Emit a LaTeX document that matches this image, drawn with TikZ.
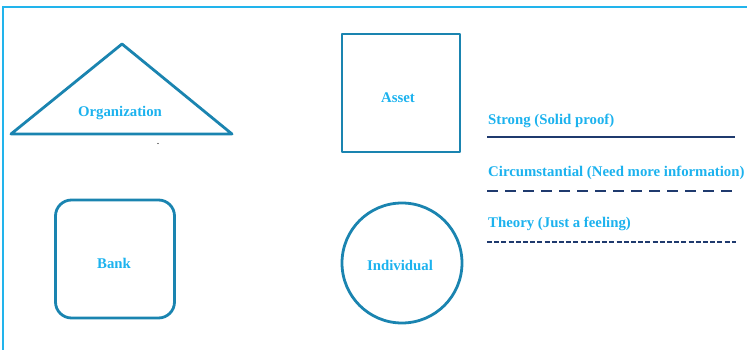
\documentclass[tikz,border=0pt]{standalone}
\usepackage{fontspec}
\setmainfont{Liberation Serif}
\definecolor{shapeblue}{HTML}{1A84B0}
\definecolor{textblue}{HTML}{1CB2EE}
\definecolor{frameblue}{HTML}{22B4EC}
\definecolor{navy}{HTML}{1F3A6E}
\begin{document}
\begin{tikzpicture}[x=1pt,y=-1pt,
  shp/.style={draw=shapeblue,line width=2.8pt,line join=round},
  lbl/.style={text=textblue,font=\bfseries\fontsize{14.8}{16}\selectfont,inner sep=0pt},
  leg/.style={text=textblue,font=\bfseries\fontsize{14.8}{16}\selectfont,inner sep=0pt,anchor=west},
  legline/.style={draw=navy,line width=2.5pt}]
\useasboundingbox (0,0) rectangle (747,350);
% frame
\draw[frameblue,line width=1.8pt] (3,350) -- (3,7) -- (747,7);
% organization triangle
\draw[shp] (122,44) -- (232,134) -- (11,134) -- cycle;
\node[lbl] (org) at (120,112.5) {Organization};
\fill[black] (158,143.5) circle (0.6pt);
% asset square
\node[shp,minimum width=118pt,minimum height=118pt,inner sep=0pt] (asset) at (401,93) {};
\node[lbl] (assettxt) at (398,97.5) {Asset};
% bank rounded rectangle
\node[shp,rounded corners=16pt,minimum width=119pt,minimum height=118pt,inner sep=0pt] (bank) at (115,259) {};
\node[lbl] (banktxt) at (114,263.5) {Bank};
% individual circle
\node[shp,circle,minimum size=120pt,inner sep=0pt] (indiv) at (402,263) {};
\node[lbl] (indivtxt) at (400,265.5) {Individual};
% legend
\node[leg] (s1) at (488,120.5) {Strong (Solid proof)};
\coordinate (s1a) at (487,137); \coordinate (s1b) at (735,137);
\draw[legline] (s1a) -- (s1b);
\node[leg] (s2) at (488,172.5) {Circumstantial (Need more information)};
\coordinate (s2a) at (487,191); \coordinate (s2b) at (735,191);
\draw[legline,dash pattern=on 11pt off 7pt] (s2a) -- (s2b);
\node[leg] (s3) at (488,223.5) {Theory (Just a feeling)};
\coordinate (s3a) at (487,242); \coordinate (s3b) at (736,242);
\draw[legline,dash pattern=on 5pt off 2.2pt] (s3a) -- (s3b);
\end{tikzpicture}
\end{document}
